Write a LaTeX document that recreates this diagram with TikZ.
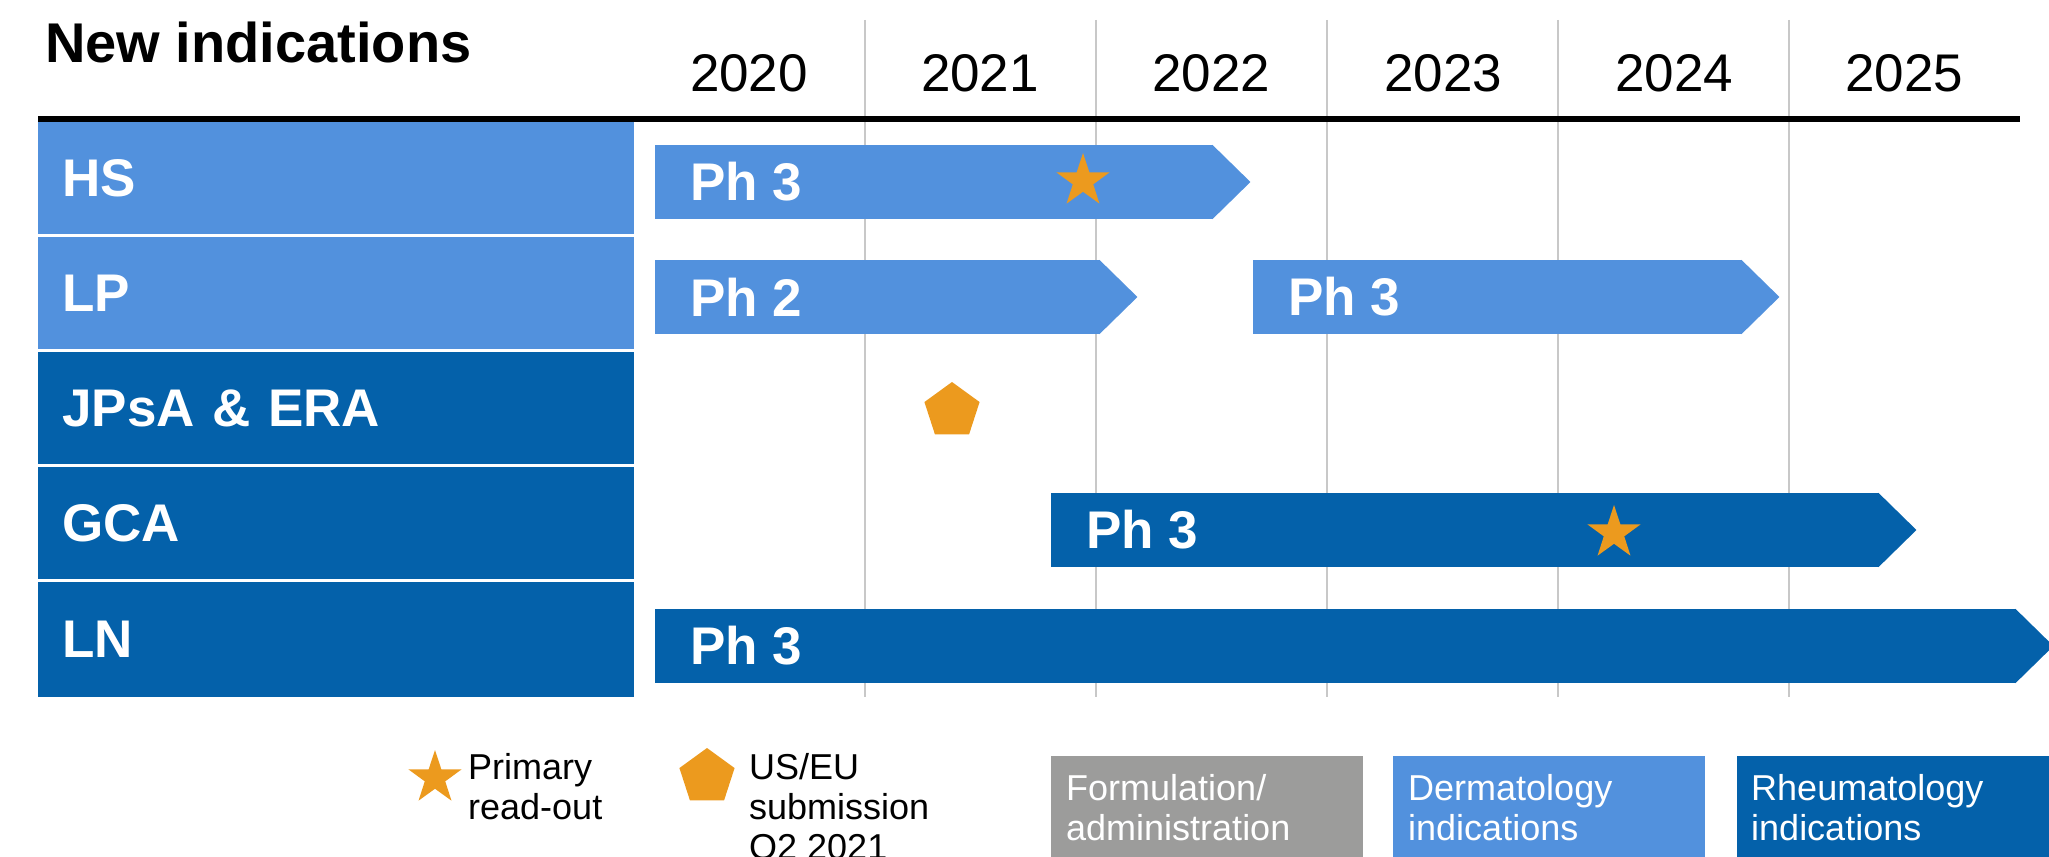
\documentclass[tikz,border=0pt]{standalone}
\usepackage{fontspec}
\setmainfont{Liberation Sans}
\usetikzlibrary{positioning,shapes.geometric,calc}
\definecolor{lightblue}{HTML}{5291DD}
\definecolor{darkblue}{HTML}{0461AA}
\definecolor{markorange}{HTML}{EC9A1E}
\definecolor{formgrey}{HTML}{9C9C9B}
\definecolor{gridgrey}{HTML}{C8C8C8}

\begin{document}
\begin{tikzpicture}[x=1pt, y=-1pt,
    rowbox/.style={fill=#1, anchor=north west, minimum height=112pt, text width=548pt,
                inner xsep=24pt, inner ysep=0pt, align=left, text=white,
                font=\fontsize{53}{58}\selectfont\bfseries},
    bar/.style={fill=#1, anchor=west, minimum height=74pt, inner sep=0pt},
    phase/.style={inner sep=0pt, text=white, font=\fontsize{53}{58}\selectfont\bfseries},
    year/.style={anchor=base, inner sep=0pt, font=\fontsize{53}{58}\selectfont},
    gridline/.style={draw=gridgrey, line width=2.5pt},
    readout/.style={star, star points=5, star point ratio=2.6, minimum size=56pt,
                inner sep=0pt, fill=markorange},
    submit/.style={regular polygon, regular polygon sides=5, minimum size=58pt,
                inner sep=0pt, fill=markorange},
    legtext/.style={anchor=base west, inner sep=0pt, align=left,
                font=\fontsize{36}{40}\selectfont},
    legbox/.style={fill=#1, anchor=north west, minimum width=312pt, minimum height=120pt,
                inner sep=0pt}
]
\useasboundingbox (0,0) rectangle (2049,856);

% year grid
\draw[gridline] (865,20) -- (865,697);
\draw[gridline] (1096,20) -- (1096,697);
\draw[gridline] (1327,20) -- (1327,697);
\draw[gridline] (1558,20) -- (1558,697);
\draw[gridline] (1789,20) -- (1789,697);
\draw[line width=6pt] (38,119) -- (2020,119);

\node[anchor=base west, inner sep=0pt, font=\fontsize{56}{60}\selectfont\bfseries] (heading) at (45,63) {New indications};
\node[year] (y2020) at (749,92) {2020};
\node[year] (y2021) at (980,92) {2021};
\node[year] (y2022) at (1211,92) {2022};
\node[year] (y2023) at (1443,92) {2023};
\node[year] (y2024) at (1674,92) {2024};
\node[year] (y2025) at (1904,92) {2025};

% indication rows
\node[rowbox=lightblue] (hs) at (38,122) {HS};
\node[rowbox=lightblue] (lp) at (38,237) {LP};
\node[rowbox=darkblue] (jpsa) at (38,352) {JPsA \& ERA};
\node[rowbox=darkblue] (gca) at (38,467) {GCA};
\node[rowbox=darkblue, minimum height=115pt] (ln) at (38,582) {LN};

% phase bars
\node[bar=lightblue, minimum width=558pt] (hsbar) at (655,182) {};
\fill[lightblue] ([xshift=-1pt]hsbar.north east) -- ([xshift=37pt]hsbar.east) -- ([xshift=-1pt]hsbar.south east) -- cycle;
\node[phase, right=35pt of hsbar.west] (hsph) {Ph 3};

\node[bar=lightblue, minimum width=445pt] (lpbar) at (655,297) {};
\fill[lightblue] ([xshift=-1pt]lpbar.north east) -- ([xshift=37pt]lpbar.east) -- ([xshift=-1pt]lpbar.south east) -- cycle;
\node[phase, right=35pt of lpbar.west] (lpph) {Ph 2};

\node[bar=lightblue, minimum width=489pt] (lpbartwo) at (1253,297) {};
\fill[lightblue] ([xshift=-1pt]lpbartwo.north east) -- ([xshift=37pt]lpbartwo.east) -- ([xshift=-1pt]lpbartwo.south east) -- cycle;
\node[phase, right=35pt of lpbartwo.west] (lpphtwo) {Ph 3};

\node[bar=darkblue, minimum width=828pt] (gcabar) at (1051,530) {};
\fill[darkblue] ([xshift=-1pt]gcabar.north east) -- ([xshift=37pt]gcabar.east) -- ([xshift=-1pt]gcabar.south east) -- cycle;
\node[phase, right=35pt of gcabar.west] (gcaph) {Ph 3};

\node[bar=darkblue, minimum width=1361pt] (lnbar) at (655,646) {};
\fill[darkblue] ([xshift=-1pt]lnbar.north east) -- ([xshift=37pt]lnbar.east) -- ([xshift=-1pt]lnbar.south east) -- cycle;
\node[phase, right=35pt of lnbar.west] (lnph) {Ph 3};

% milestones
\node[readout] (hsread) at (1083,181) {};
\node[readout] (gcaread) at (1614,533) {};
\node[submit] (jpsasub) at (952,411) {};

% legend
\node[readout] (keystar) at (435,778) {};
\node[legtext] (keystartxt) at (468,819) {Primary\\read-out};
\node[submit] (keypent) at (707,777) {};
\node[legtext] (keypenttxt) at (749,859) {US/EU\\submission\\Q2 2021};
\node[legbox=formgrey] (keyform) at (1051,756) {};
\node[legbox=lightblue] (keyderm) at (1393,756) {};
\node[legbox=darkblue] (keyrheum) at (1737,756) {};
\node[legtext, text=white] (keyformtxt) at (1066,840) {Formulation/\\administration};
\node[legtext, text=white] (keydermtxt) at (1408,840) {Dermatology\\indications};
\node[legtext, text=white] (keyrheumtxt) at (1751,840) {Rheumatology\\indications};
\end{tikzpicture}
\end{document}
